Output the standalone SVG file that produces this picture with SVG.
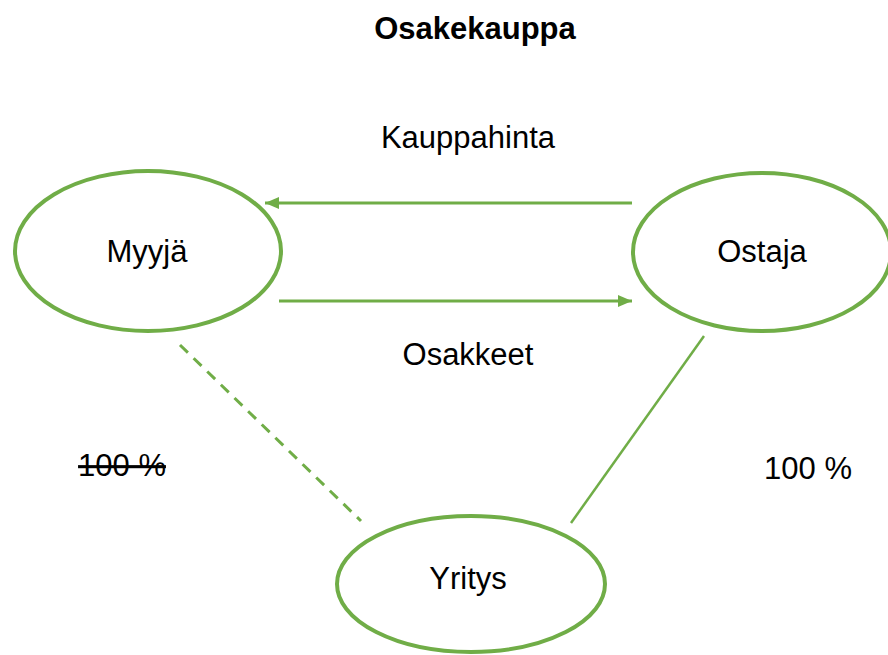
<svg xmlns="http://www.w3.org/2000/svg" width="888" height="655" viewBox="0 0 888 655">
<defs>
<style>
.node{fill:#fff;stroke:#70AD47;stroke-width:4}
.t{font-family:"Liberation Sans",Arial,sans-serif;font-size:31px;fill:#000;text-anchor:middle}
.c{stroke:#70AD47;fill:none}
</style>
<marker id="ah" markerUnits="userSpaceOnUse" markerWidth="16" markerHeight="14" refX="14" refY="7" orient="auto">
<path d="M0,1 L14,7 L0,13 Z" fill="#70AD47"/>
</marker>
</defs>
<rect width="888" height="655" fill="#fff"/>
<text class="t" x="475" y="39" style="font-weight:bold">Osakekauppa</text>
<g id="connectors">
<line class="c" x1="632" y1="203" x2="265" y2="203" stroke-width="3" marker-end="url(#ah)"/>
<line class="c" x1="279" y1="301" x2="632" y2="301" stroke-width="3" marker-end="url(#ah)"/>
<line class="c" x1="180" y1="345" x2="361" y2="521" stroke-width="3" stroke-dasharray="11,8"/>
<line class="c" x1="704" y1="336" x2="571" y2="523" stroke-width="2.5"/>
</g>
<text class="t" x="468" y="148">Kauppahinta</text>
<text class="t" x="468" y="365">Osakkeet</text>
<text class="t" x="122" y="476" style="text-decoration:line-through">100 %</text>
<text class="t" x="808" y="479">100 %</text>
<g id="myyja">
<ellipse class="node" cx="148" cy="251" rx="133" ry="80"/>
<text class="t" x="147" y="262">Myyjä</text>
</g>
<g id="ostaja">
<ellipse class="node" cx="762" cy="252" rx="129" ry="79"/>
<text class="t" x="762" y="262">Ostaja</text>
</g>
<g id="yritys">
<ellipse class="node" cx="471" cy="584" rx="134" ry="68"/>
<text class="t" x="468" y="589">Yritys</text>
</g>
</svg>
